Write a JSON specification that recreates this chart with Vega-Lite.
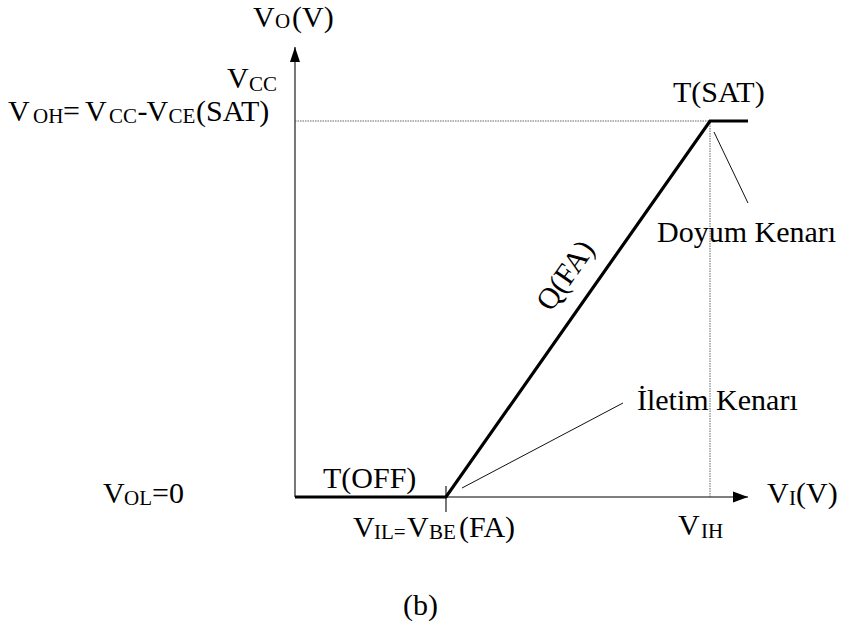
{
  "$schema": "https://vega.github.io/schema/vega-lite/v6.json",
  "width": 846,
  "height": 631,
  "autosize": "none",
  "padding": 0,
  "background": "white",
  "config": {"view": {"stroke": null}},
  "datasets": {
    "curve": [
      {"i": 0, "x": 0, "y": 0},
      {"i": 1, "x": 0.7, "y": 0},
      {"i": 2, "x": 1.924, "y": 4.8},
      {"i": 3, "x": 2.1, "y": 4.8}
    ],
    "axes": [
      {"x": 0, "y": 0, "x2": 2.1, "y2": 0},
      {"x": 0, "y": 0, "x2": 0, "y2": 5.745},
      {"x": 0.7, "y": -0.1915, "x2": 0.7, "y2": 0.1404}
    ],
    "guides": [
      {"x": 0, "y": 4.8, "x2": 1.924, "y2": 4.8},
      {"x": 1.924, "y": 0, "x2": 1.924, "y2": 4.8}
    ],
    "leaders": [
      {"x": 1.9424, "y": 4.6596, "x2": 2.1, "y2": 3.7532},
      {"x": 0.7742, "y": 0.1149, "x2": 1.5205, "y2": 1.2}
    ],
    "labels": [
      {"role": "main", "t": "V", "x": -0.1947, "y": 6.0},
      {"role": "sub", "t": "O", "x": -0.0927, "y": 5.9872},
      {"role": "main", "t": "(V)", "x": -0.0139, "y": 6.0},

      {"role": "main", "t": "V", "x": -0.3152, "y": 5.2213},
      {"role": "sub", "t": "CC", "x": -0.2132, "y": 5.183},

      {"role": "main", "t": "V", "x": -1.3305, "y": 4.8},
      {"role": "sub", "t": "OH", "x": -1.2146, "y": 4.7745},
      {"role": "main", "t": "=", "x": -1.0754, "y": 4.8},
      {"role": "main", "t": "V", "x": -0.9735, "y": 4.8},
      {"role": "sub", "t": "CC", "x": -0.8623, "y": 4.7745},
      {"role": "main", "t": "-", "x": -0.7301, "y": 4.8},
      {"role": "main", "t": "V", "x": -0.6883, "y": 4.8},
      {"role": "sub", "t": "CE", "x": -0.5864, "y": 4.7745},
      {"role": "main", "t": "(SAT)", "x": -0.4590, "y": 4.8},

      {"role": "main", "t": "T(SAT)", "x": 1.7523, "y": 5.0426},
      {"role": "main", "t": "Doyum Kenarı", "x": 1.6782, "y": 3.2553},
      {"role": "main", "t": "İletim Kenarı", "x": 1.5854, "y": 1.1106},
      {"role": "main", "t": "T(OFF)", "x": 0.1298, "y": 0.1149},

      {"role": "main", "t": "V", "x": -0.8901, "y": -0.0766},
      {"role": "sub", "t": "OL", "x": -0.7928, "y": -0.1021},
      {"role": "main", "t": "=0", "x": -0.6629, "y": -0.0766},

      {"role": "main", "t": "V", "x": 0.2689, "y": -0.5106},
      {"role": "sub", "t": "IL=", "x": 0.3662, "y": -0.5362},
      {"role": "main", "t": "V", "x": 0.5192, "y": -0.5106},
      {"role": "sub", "t": "BE", "x": 0.6212, "y": -0.5362},
      {"role": "main", "t": "(FA)", "x": 0.7603, "y": -0.5106},

      {"role": "main", "t": "V", "x": 1.7755, "y": -0.4851},
      {"role": "sub", "t": "IH", "x": 1.8822, "y": -0.5234},

      {"role": "main", "t": "V", "x": 2.1881, "y": -0.0766},
      {"role": "sub", "t": "I", "x": 2.2901, "y": -0.1021},
      {"role": "main", "t": "(V)", "x": 2.3225, "y": -0.0766},

      {"role": "main", "t": "(b)", "x": 0.5007, "y": -1.5064}
    ],
    "slopeLabel": [
      {"t": "Q(FA)", "x": 1.29, "y": 2.76}
    ],
    "yArrow": [{"x": 0, "y": 5.745}],
    "xArrow": [{"x": 2.1, "y": 0}]
  },
  "encoding": {
    "x": {"field": "x", "type": "quantitative", "axis": null,
          "scale": {"domain": [-1.3675, 2.5544], "nice": false, "zero": false}},
    "y": {"field": "y", "type": "quantitative", "axis": null,
          "scale": {"domain": [-1.7106, 6.3447], "nice": false, "zero": false}}
  },
  "layer": [
    {
      "data": {"name": "guides"},
      "mark": {"type": "rule", "color": "#666666", "strokeWidth": 1, "strokeDash": [1.5, 1]},
      "encoding": {"x2": {"field": "x2"}, "y2": {"field": "y2"}}
    },
    {
      "data": {"name": "axes"},
      "mark": {"type": "rule", "color": "#555555", "strokeWidth": 1.6},
      "encoding": {"x2": {"field": "x2"}, "y2": {"field": "y2"}}
    },
    {
      "data": {"name": "leaders"},
      "mark": {"type": "rule", "color": "#111111", "strokeWidth": 1},
      "encoding": {"x2": {"field": "x2"}, "y2": {"field": "y2"}}
    },
    {
      "data": {"name": "curve"},
      "mark": {"type": "line", "color": "#000000", "strokeWidth": 3.2, "strokeJoin": "miter", "strokeCap": "butt"},
      "encoding": {"order": {"field": "i", "type": "quantitative"}}
    },
    {
      "data": {"name": "yArrow"},
      "mark": {"type": "point", "shape": "M0,0L0.667,2L-0.667,2Z", "size": 225, "filled": true, "color": "#000000", "opacity": 1, "strokeWidth": 0}
    },
    {
      "data": {"name": "xArrow"},
      "mark": {"type": "point", "shape": "M0,0L-2,-0.72L-2,0.72Z", "size": 225, "filled": true, "color": "#000000", "opacity": 1, "strokeWidth": 0}
    },
    {
      "data": {"name": "labels"},
      "transform": [{"filter": "datum.role === 'main'"}],
      "mark": {"type": "text", "font": "Liberation Serif", "fontSize": 30, "align": "left", "baseline": "alphabetic", "color": "#000000"},
      "encoding": {"text": {"field": "t"}}
    },
    {
      "data": {"name": "labels"},
      "transform": [{"filter": "datum.role === 'sub'"}],
      "mark": {"type": "text", "font": "Liberation Serif", "fontSize": 21, "align": "left", "baseline": "alphabetic", "color": "#000000"},
      "encoding": {"text": {"field": "t"}}
    },
    {
      "data": {"name": "slopeLabel"},
      "mark": {"type": "text", "font": "Liberation Serif", "fontSize": 30, "align": "center", "baseline": "alphabetic", "angle": -55, "color": "#000000"},
      "encoding": {"text": {"field": "t"}}
    }
  ]
}
